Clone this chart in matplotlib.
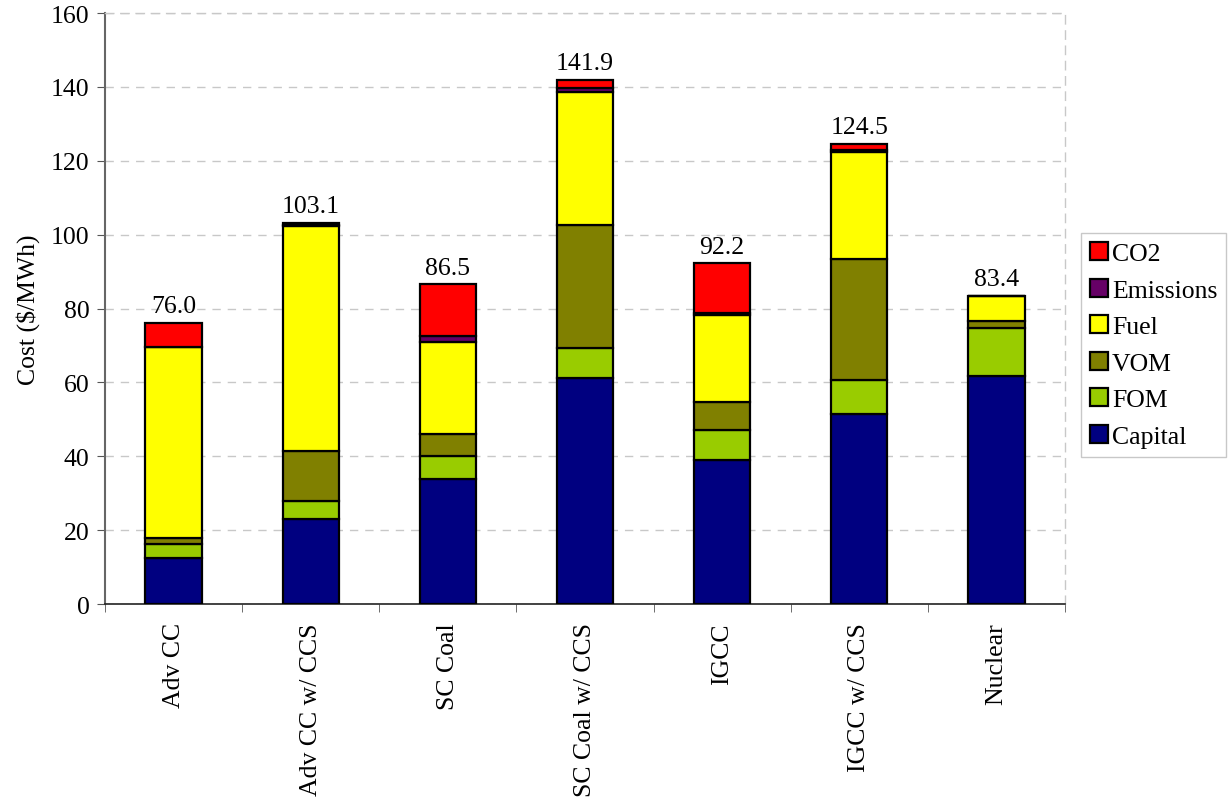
import matplotlib
matplotlib.use("Agg")
import matplotlib.pyplot as plt
import numpy as np

plt.rcParams['font.family'] = ['Liberation Serif', 'DejaVu Serif']

technologies = ["Adv CC", "Adv CC w/ CCS", "SC Coal", "SC Coal w/ CCS",
                "IGCC", "IGCC w/ CCS", "Nuclear"]

capital   = [12.4, 23.0, 33.8, 61.1, 39.1, 51.4, 61.8]
fom       = [3.9, 4.9, 6.2, 8.2, 7.9, 9.3, 12.9]
vom       = [1.5, 13.5, 6.0, 33.4, 7.7, 32.6, 2.0]
fuel      = [51.8, 60.9, 24.8, 35.9, 23.6, 29.1, 6.7]
emissions = [0.1, 0.3, 1.7, 1.2, 0.4, 0.6, 0.0]
co2       = [6.3, 0.5, 14.0, 2.1, 13.5, 1.5, 0.0]

components = [
    ("Capital", capital, "#000080"),
    ("FOM", fom, "#99CC00"),
    ("VOM", vom, "#808000"),
    ("Fuel", fuel, "#FFFF00"),
    ("Emissions", emissions, "#660066"),
    ("CO2", co2, "#FF0000"),
]

FS = 18.5

fig = plt.figure(figsize=(12.28, 8.04), dpi=100)
ax = fig.add_axes([105 / 1228, 1 - 605 / 804, (1065 - 105) / 1228, (605 - 14) / 804])

x = np.arange(len(technologies))
bottom = np.zeros(len(technologies))
handles = {}
for name, vals, color in components:
    vals = np.array(vals)
    bars = ax.bar(x, vals, width=0.41, bottom=bottom, color=color,
                  edgecolor="black", linewidth=1.6, label=name, zorder=3)
    handles[name] = bars
    bottom = bottom + vals

for xi, total in zip(x, bottom):
    ax.text(xi, total + 1.6, f"{total:.1f}", ha="center", va="bottom",
            fontsize=FS, zorder=4)

ax.set_xlim(-0.5, len(technologies) - 0.5)
ax.set_ylim(0, 160)
ax.set_yticks(np.arange(0, 161, 20))
ax.tick_params(axis="y", labelsize=FS, direction="out", length=6, color="#555555", pad=5)

ax.set_xticks(x)
ax.set_xticklabels(technologies, rotation=90, fontsize=FS, va="top")
ax.tick_params(axis="x", which="major", length=0, pad=13)
ax.set_xticks(np.arange(-0.5, len(technologies), 1.0), minor=True)
ax.tick_params(axis="x", which="minor", length=6, direction="out", color="#555555")

ax.grid(axis="y", color="#c8c8c8", linestyle=(0, (6, 5)), linewidth=1.0, zorder=0)

for side in ("top", "right"):
    ax.spines[side].set_color("#c8c8c8")
    ax.spines[side].set_linestyle((0, (6, 5)))
    ax.spines[side].set_linewidth(1.0)
ax.spines["left"].set_color("#666666")
ax.spines["left"].set_linewidth(1.5)
ax.spines["bottom"].set_color("#222222")
ax.spines["bottom"].set_linewidth(1.2)

ax.set_ylabel("Cost (\\$/MWh)", fontsize=FS, labelpad=8)

order = ["CO2", "Emissions", "Fuel", "VOM", "FOM", "Capital"]
leg = fig.legend([handles[n] for n in order], order,
                 loc="upper left", bbox_to_anchor=(1081 / 1228, 1 - 234 / 804),
                 bbox_transform=fig.transFigure, borderaxespad=0,
                 fontsize=FS, fancybox=False, frameon=True,
                 handlelength=0.7, handleheight=0.7, handletextpad=0.15,
                 labelspacing=0.53, borderpad=0.35)
leg.get_frame().set_edgecolor("#bbbbbb")
leg.get_frame().set_linewidth(1.0)

fig.savefig("out.png", dpi=100)
